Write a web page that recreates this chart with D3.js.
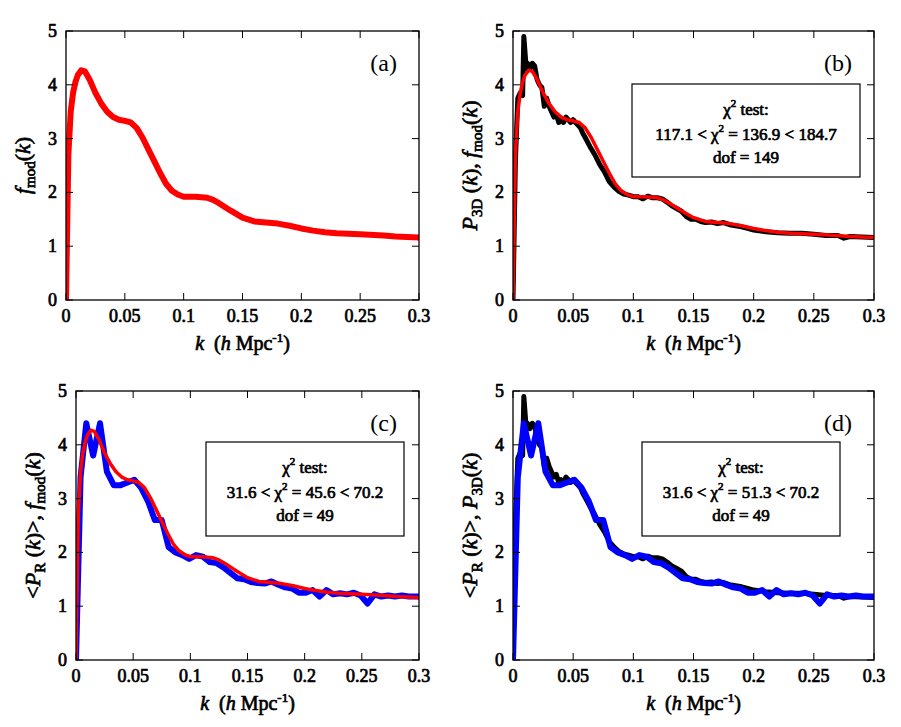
<!DOCTYPE html><html><head><script src="https://cdn.jsdelivr.net/npm/d3@7"></script>
<style>body{margin:0;background:#fff} .b{stroke:#000;stroke-width:0.7px}</style></head><body><svg id="s" width="901" height="727" font-family="'Liberation Serif'"></svg>
<script>
const xTicks=[0,0.05,0.1,0.15,0.2,0.25,0.3];
const xTickLabels=["0","0.05","0.1","0.15","0.2","0.25","0.3"];
const yTicks=[0,1,2,3,4,5];
const fmodK=[0,0.002,0.004,0.006,0.008,0.01,0.013,0.016,0.02,0.025,0.03,0.035,0.04,0.045,0.05,0.055,0.06,0.065,0.07,0.075,0.08,0.085,0.09,0.095,0.1,0.11,0.12,0.125,0.13,0.14,0.15,0.16,0.17,0.18,0.19,0.2,0.21,0.22,0.23,0.25,0.27,0.28,0.3];
const fmodV=[0,2.7,3.5,3.85,4.05,4.18,4.27,4.25,4.1,3.85,3.65,3.5,3.4,3.35,3.33,3.3,3.2,3.02,2.8,2.58,2.36,2.16,2.03,1.96,1.92,1.92,1.9,1.86,1.8,1.66,1.53,1.46,1.44,1.42,1.38,1.33,1.29,1.26,1.24,1.22,1.2,1.18,1.16];
const p3dK=[0,0.002,0.004,0.006,0.008,0.009,0.01,0.011,0.012,0.014,0.016,0.018,0.02,0.022,0.024,0.026,0.028,0.03,0.032,0.034,0.036,0.038,0.04,0.042,0.044,0.046,0.048,0.05,0.052,0.054,0.056,0.058,0.06,0.064,0.068,0.072,0.076,0.08,0.084,0.088,0.092,0.096,0.1,0.104,0.108,0.112,0.116,0.12,0.124,0.128,0.132,0.136,0.14,0.144,0.148,0.152,0.156,0.16,0.165,0.17,0.175,0.18,0.185,0.19,0.195,0.2,0.21,0.22,0.23,0.24,0.25,0.26,0.27,0.275,0.28,0.29,0.3];
const p3dV=[0,2.6,3.75,3.85,3.8,4.9,4.6,4.3,4.4,4.3,4.4,4.35,4.1,4.0,3.95,3.6,3.75,3.6,3.5,3.4,3.45,3.3,3.35,3.3,3.4,3.35,3.3,3.35,3.3,3.25,3.2,3.1,3.02,2.85,2.7,2.52,2.38,2.2,2.1,2.02,1.97,1.95,1.92,1.92,1.88,1.93,1.9,1.9,1.88,1.82,1.75,1.7,1.65,1.55,1.5,1.5,1.46,1.44,1.45,1.42,1.44,1.4,1.38,1.36,1.33,1.3,1.27,1.25,1.24,1.24,1.22,1.2,1.2,1.15,1.18,1.17,1.16];
const prK=[0,0.004,0.009,0.015,0.021,0.027,0.033,0.039,0.045,0.051,0.057,0.063,0.069,0.075,0.081,0.087,0.093,0.099,0.105,0.111,0.117,0.123,0.129,0.135,0.141,0.147,0.153,0.159,0.165,0.171,0.177,0.183,0.189,0.195,0.201,0.207,0.213,0.219,0.225,0.231,0.237,0.243,0.249,0.255,0.261,0.267,0.273,0.279,0.285,0.291,0.3];
const prV=[0,3.4,4.4,3.8,4.4,3.5,3.25,3.25,3.3,3.35,3.2,2.95,2.6,2.6,2.1,2.0,1.95,1.88,1.95,1.92,1.82,1.8,1.72,1.62,1.52,1.5,1.45,1.43,1.42,1.46,1.4,1.35,1.33,1.25,1.25,1.3,1.18,1.3,1.22,1.24,1.22,1.25,1.2,1.05,1.22,1.18,1.2,1.18,1.2,1.18,1.18];
const svg=d3.select("#s");
function panel(L,R,T,B,letter,series,ylab,box){
 const x=d3.scaleLinear().domain([0,0.3]).range([L,R]);
 const y=d3.scaleLinear().domain([0,5]).range([B,T]);
 const g=svg.append("g");
 const cp="c"+letter;
 g.append("clipPath").attr("id",cp).append("rect").attr("x",L).attr("y",T).attr("width",R-L).attr("height",B-T);
 series.forEach(s=>{
  g.append("path").attr("clip-path",`url(#${cp})`).attr("d",d3.line().x(d=>x(d[0])).y(d=>y(d[1]))(s.k.map((k,i)=>[k,s.v[i]])))
   .attr("fill","none").attr("stroke",s.c).attr("stroke-width",s.w).attr("stroke-linejoin","round");
 });
 g.append("rect").attr("x",L).attr("y",T).attr("width",R-L).attr("height",B-T).attr("fill","none").attr("stroke","#000").attr("stroke-width",1.3);
 xTicks.forEach((t,i)=>{
  g.append("line").attr("x1",x(t)).attr("x2",x(t)).attr("y1",B).attr("y2",B-7).attr("stroke","#000");
  g.append("line").attr("x1",x(t)).attr("x2",x(t)).attr("y1",T).attr("y2",T+7).attr("stroke","#000");
  g.append("text").attr("class","b").attr("x",x(t)).attr("y",B+22).attr("text-anchor","middle").attr("font-size",18).text(xTickLabels[i]);
 });
 yTicks.forEach(t=>{
  g.append("line").attr("x1",L).attr("x2",L+7).attr("y1",y(t)).attr("y2",y(t)).attr("stroke","#000");
  g.append("line").attr("x1",R).attr("x2",R-7).attr("y1",y(t)).attr("y2",y(t)).attr("stroke","#000");
  g.append("text").attr("class","b").attr("x",L-9).attr("y",y(t)+6).attr("text-anchor","end").attr("font-size",18).text(t);
 });
 g.append("text").attr("x",R-22).attr("y",T+40).attr("text-anchor","end").attr("font-size",24).text(`(${letter})`);
 const xl=g.append("text").attr("class","b").attr("x",(L+R)/2).attr("y",B+50).attr("text-anchor","middle").attr("font-size",20);
 xl.append("tspan").attr("font-style","italic").text("k");
 xl.append("tspan").text("\u00a0\u00a0(");
 xl.append("tspan").attr("font-style","italic").text("h");
 xl.append("tspan").text(" Mpc");
 xl.append("tspan").attr("dy",-8).attr("font-size",13).text("-1");
 xl.append("tspan").attr("dy",8).text(")");
 const yl=g.append("text").attr("class","b").attr("transform",`translate(${L-36},${(T+B)/2}) rotate(-90)`).attr("text-anchor","middle").attr("font-size",22);
 ylab.forEach(p=>{const ts=yl.append("tspan").text(p.t);if(p.i)ts.attr("font-style","italic");if(p.sub)ts.attr("dy",p.sub);if(p.s)ts.attr("font-size",15);});
 if(box){
  const [bx,by,bw,bh,l1,l2]=box;
  g.append("rect").attr("x",bx).attr("y",by).attr("width",bw).attr("height",bh).attr("fill","#fff").attr("stroke","#000").attr("stroke-width",1.2);
  const cx=bx+bw/2;
  const t1=g.append("text").attr("class","b").attr("x",cx).attr("y",by+31).attr("text-anchor","middle").attr("font-size",17);
  t1.append("tspan").text("\u03c7");t1.append("tspan").attr("dy",-8).attr("font-size",11).text("2");t1.append("tspan").attr("dy",8).text(" test:");
  const t2=g.append("text").attr("class","b").attr("x",cx).attr("y",by+56).attr("text-anchor","middle").attr("font-size",17);
  t2.append("tspan").text(l1[0]+" < \u03c7");t2.append("tspan").attr("dy",-8).attr("font-size",11).text("2");t2.append("tspan").attr("dy",8).text(" = "+l1[1]+" < "+l1[2]);
  g.append("text").attr("class","b").attr("x",cx).attr("y",by+79).attr("text-anchor","middle").attr("font-size",17).text(l2);
 }
}
const red=w=>({k:fmodK,v:fmodV,c:"#f00",w:w});
const blk={k:p3dK,v:p3dV,c:"#000",w:5};
const blu={k:prK,v:prV,c:"#00f",w:6};
const fmodLab=[{t:"f",i:1},{t:"mod",sub:5,s:1},{t:"(",sub:-5},{t:"k",i:1},{t:")"}];
panel(66,419,31,300,"a",[red(6)],fmodLab,null);
panel(513,874,31,300,"b",[blk,red(3.5)],[{t:"P",i:1},{t:"3D",sub:5,s:1},{t:" (",sub:-5},{t:"k",i:1},{t:"),  "},{t:"f",i:1},{t:"mod",sub:5,s:1},{t:"(",sub:-5},{t:"k",i:1},{t:")"}],[632,84,228,93,["117.1","136.9","184.7"],"dof = 149"]);
panel(76,419,391,660,"c",[blu,red(3.5)],[{t:"<"},{t:"P",i:1},{t:"R",sub:5,s:1},{t:" (",sub:-5},{t:"k",i:1},{t:")>,  "},{t:"f",i:1},{t:"mod",sub:5,s:1},{t:"(",sub:-5},{t:"k",i:1},{t:")"}],[206,442,198,94,["31.6","45.6","70.2"],"dof = 49"]);
panel(513,874,391,660,"d",[blk,blu],[{t:"<"},{t:"P",i:1},{t:"R",sub:5,s:1},{t:" (",sub:-5},{t:"k",i:1},{t:")>,  "},{t:"P",i:1},{t:"3D",sub:5,s:1},{t:"(",sub:-5},{t:"k",i:1},{t:")"}],[642,442,198,94,["31.6","51.3","70.2"],"dof = 49"]);
</script></body></html>
